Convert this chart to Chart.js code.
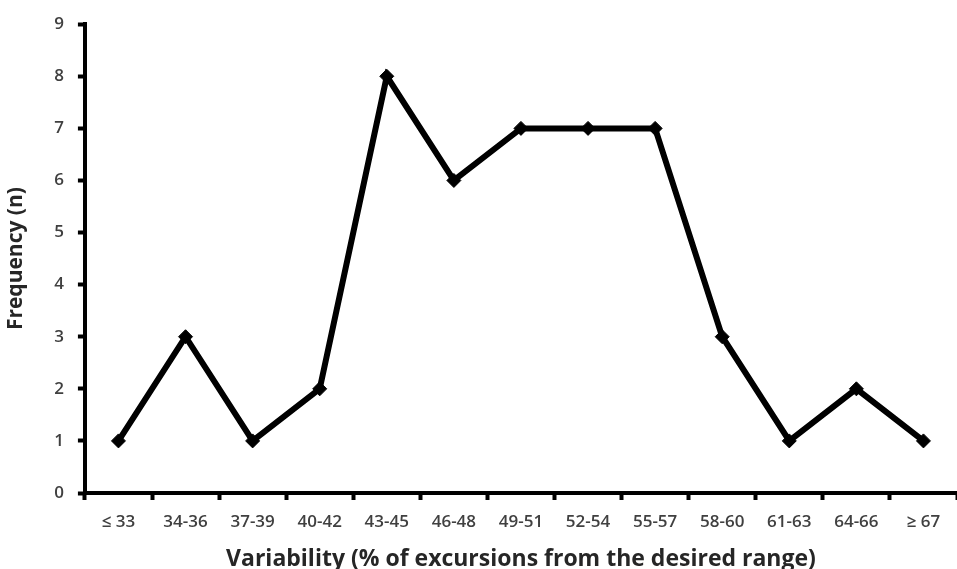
<!DOCTYPE html>
<html><head><meta charset="utf-8">
<script src="https://cdn.jsdelivr.net/npm/chart.js@4"></script>
<style>html,body{margin:0;padding:0;background:#fff;overflow:hidden}canvas{display:block}</style>
</head><body><canvas id="c" width="957" height="569"></canvas>
<script>
const categories = ["≤ 33","34-36","37-39","40-42","43-45","46-48","49-51","52-54","55-57","58-60","61-63","64-66","≥ 67"];
const frequency = [1,3,1,2,8,6,7,7,7,3,1,2,1];
const yTicks = [0,1,2,3,4,5,6,7,8,9];
const xTitle = "Variability (% of excursions from the desired range)";
const yTitle = "Frequency (n)";

new Chart(document.getElementById('c'), {
  type: 'line',
  data: { labels: categories, datasets: [{
    data: frequency, borderColor: '#000', borderWidth: 6, tension: 0,
    pointStyle: 'rectRot', pointRadius: 7, pointBackgroundColor: '#000', pointBorderColor: '#000', pointBorderWidth: 1,
    borderJoinStyle: 'miter'
  }]},
  options: {
    responsive: false, animation: false, devicePixelRatio: 1,
    layout: { autoPadding: false, padding: { top: 8, right: -9, left: 3, bottom: -4 } },
    plugins: { legend: { display: false }, tooltip: { enabled: false } },
    scales: {
      x: {
        offset: true,
        grid: { offset: true, drawOnChartArea: false, drawTicks: true, tickLength: 7, tickWidth: 4, tickColor: '#000' },
        border: { color: '#000', width: 4 },
        ticks: { color: '#404040', font: { family: 'Open Sans', size: 17, weight: '600' }, padding: 12, maxRotation: 0, autoSkip: false },
        title: { display: true, text: xTitle, color: '#262626', font: { family: 'Open Sans', size: 23, weight: 'bold' }, padding: { top: 1, bottom: 0 } }
      },
      y: {
        min: 0, max: 9,
        afterBuildTicks: (s) => { s.ticks = yTicks.map(v => ({ value: v })); },
        grid: { drawOnChartArea: false, drawTicks: true, tickLength: 7, tickWidth: 4, tickColor: '#000' },
        border: { color: '#000', width: 4 },
        ticks: { color: '#404040', font: { family: 'Open Sans', size: 17, weight: '600' }, padding: 14 },
        title: { display: true, text: yTitle, color: '#262626', font: { family: 'Open Sans', size: 21, weight: 'bold' }, padding: { top: 0, bottom: 12 } }
      }
    }
  }
});
</script></body></html>
